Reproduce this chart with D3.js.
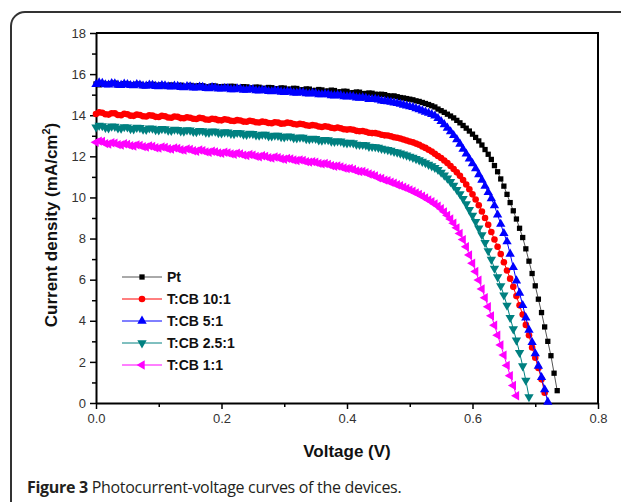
<!DOCTYPE html>
<html>
<head>
<meta charset="utf-8">
<script src="https://cdnjs.cloudflare.com/ajax/libs/d3/7.8.5/d3.min.js"></script>
<style>
  body { margin: 0; background: #fff; }
  svg { display: block; font-family: "Liberation Sans", Arial, sans-serif; }
  .axis path, .axis line { stroke: #000; }
  .axis text { fill: #333; font-size: 13px; }
</style>
</head>
<body>
<svg id="chart" width="621" height="502"></svg>
<script>
// voltage grid (V), 5 mV steps as in the measurement
const voltage = [
  0.000, 0.005, 0.010, 0.015, 0.020, 0.025, 0.030, 0.035, 0.040, 0.045,
  0.050, 0.055, 0.060, 0.065, 0.070, 0.075, 0.080, 0.085, 0.090, 0.095,
  0.100, 0.105, 0.110, 0.115, 0.120, 0.125, 0.130, 0.135, 0.140, 0.145,
  0.150, 0.155, 0.160, 0.165, 0.170, 0.175, 0.180, 0.185, 0.190, 0.195,
  0.200, 0.205, 0.210, 0.215, 0.220, 0.225, 0.230, 0.235, 0.240, 0.245,
  0.250, 0.255, 0.260, 0.265, 0.270, 0.275, 0.280, 0.285, 0.290, 0.295,
  0.300, 0.305, 0.310, 0.315, 0.320, 0.325, 0.330, 0.335, 0.340, 0.345,
  0.350, 0.355, 0.360, 0.365, 0.370, 0.375, 0.380, 0.385, 0.390, 0.395,
  0.400, 0.405, 0.410, 0.415, 0.420, 0.425, 0.430, 0.435, 0.440, 0.445,
  0.450, 0.455, 0.460, 0.465, 0.470, 0.475, 0.480, 0.485, 0.490, 0.495,
  0.500, 0.505, 0.510, 0.515, 0.520, 0.525, 0.530, 0.535, 0.540, 0.545,
  0.550, 0.555, 0.560, 0.565, 0.570, 0.575, 0.580, 0.585, 0.590, 0.595,
  0.600, 0.605, 0.610, 0.615, 0.620, 0.625, 0.630, 0.635, 0.640, 0.645,
  0.650, 0.655, 0.660, 0.665, 0.670, 0.675, 0.680, 0.685, 0.690, 0.695,
  0.700, 0.705, 0.710, 0.715, 0.720, 0.725, 0.730, 0.735
];

// current density (mA/cm2) per device
const jPt = [
  15.52, 15.48, 15.55, 15.51, 15.50, 15.54, 15.56, 15.47, 15.49, 15.53,
  15.52, 15.46, 15.47, 15.51, 15.50, 15.44, 15.45, 15.49, 15.50, 15.43,
  15.46, 15.47, 15.42, 15.45, 15.47, 15.40, 15.44, 15.46, 15.41, 15.39,
  15.45, 15.42, 15.40, 15.44, 15.43, 15.37, 15.38, 15.43, 15.42, 15.36,
  15.39, 15.40, 15.36, 15.41, 15.40, 15.34, 15.35, 15.39, 15.38, 15.32,
  15.33, 15.37, 15.36, 15.30, 15.31, 15.35, 15.34, 15.28, 15.29, 15.33,
  15.32, 15.26, 15.27, 15.31, 15.30, 15.23, 15.24, 15.28, 15.27, 15.20,
  15.21, 15.25, 15.23, 15.17, 15.18, 15.22, 15.20, 15.13, 15.14, 15.17,
  15.16, 15.09, 15.10, 15.13, 15.12, 15.05, 15.06, 15.08, 15.07, 15.02,
  15.01, 15.02, 15.00, 14.95, 14.93, 14.94, 14.90, 14.86, 14.84, 14.81,
  14.78, 14.75, 14.70, 14.67, 14.62, 14.57, 14.52, 14.46, 14.40, 14.30,
  14.22, 14.14, 14.05, 13.96, 13.87, 13.75, 13.63, 13.50, 13.37, 13.23,
  13.08, 12.92, 12.75, 12.55, 12.33, 12.10, 11.85, 11.55, 11.25, 10.90,
  10.55, 10.15, 9.75, 9.35, 8.95, 8.50, 8.05, 7.50, 6.90, 6.30,
  5.70, 5.05, 4.40, 3.70, 3.00, 2.30, 1.45, 0.60
];
const jCB10 = [
  14.06, 14.14, 14.12, 14.05, 14.03, 14.10, 14.09, 14.01, 14.00, 14.07,
  14.05, 13.98, 13.97, 14.03, 14.01, 13.95, 13.94, 14.00, 13.98, 13.92,
  13.91, 13.97, 13.95, 13.89, 13.88, 13.94, 13.92, 13.86, 13.85, 13.90,
  13.88, 13.83, 13.82, 13.87, 13.85, 13.79, 13.78, 13.83, 13.81, 13.76,
  13.75, 13.80, 13.78, 13.73, 13.72, 13.76, 13.74, 13.69, 13.68, 13.73,
  13.71, 13.66, 13.65, 13.69, 13.67, 13.62, 13.61, 13.66, 13.64, 13.59,
  13.60, 13.64, 13.62, 13.57, 13.55, 13.58, 13.56, 13.51, 13.49, 13.52,
  13.50, 13.45, 13.43, 13.46, 13.44, 13.39, 13.37, 13.40, 13.37, 13.32,
  13.30, 13.32, 13.29, 13.24, 13.22, 13.23, 13.20, 13.15, 13.13, 13.13,
  13.10, 13.05, 13.02, 13.01, 12.98, 12.93, 12.90, 12.87, 12.82, 12.77,
  12.72, 12.68, 12.62, 12.56, 12.48, 12.41, 12.32, 12.23, 12.12, 12.02,
  11.92, 11.80, 11.67, 11.53, 11.38, 11.22, 11.05, 10.85, 10.63, 10.40,
  10.15, 9.90, 9.62, 9.32, 9.00, 8.67, 8.32, 7.95, 7.60, 7.25,
  6.85, 6.45, 6.05, 5.65, 5.20, 4.75, 4.30, 3.80, 3.30, 2.70,
  2.20, 1.70, 1.15, 0.50
];
const jCB5 = [
  15.50, 15.58, 15.56, 15.49, 15.48, 15.55, 15.53, 15.47, 15.46, 15.52,
  15.50, 15.45, 15.44, 15.50, 15.48, 15.43, 15.42, 15.47, 15.46, 15.41,
  15.40, 15.45, 15.44, 15.39, 15.38, 15.43, 15.41, 15.36, 15.35, 15.40,
  15.39, 15.34, 15.33, 15.38, 15.36, 15.31, 15.30, 15.35, 15.33, 15.28,
  15.28, 15.31, 15.30, 15.25, 15.25, 15.29, 15.28, 15.22, 15.22, 15.26,
  15.25, 15.20, 15.19, 15.22, 15.21, 15.16, 15.15, 15.19, 15.18, 15.13,
  15.12, 15.15, 15.14, 15.09, 15.08, 15.11, 15.10, 15.05, 15.04, 15.07,
  15.06, 15.01, 15.00, 15.03, 15.01, 14.96, 14.95, 14.98, 14.96, 14.91,
  14.90, 14.92, 14.90, 14.85, 14.84, 14.86, 14.83, 14.78, 14.77, 14.78,
  14.75, 14.70, 14.68, 14.67, 14.64, 14.60, 14.58, 14.54, 14.50, 14.46,
  14.42, 14.38, 14.33, 14.28, 14.22, 14.16, 14.10, 14.04, 13.97, 13.85,
  13.70, 13.55, 13.38, 13.20, 13.02, 12.82, 12.60, 12.35, 12.12, 11.88,
  11.65, 11.40, 11.12, 10.85, 10.55, 10.25, 9.95, 9.60, 9.15, 8.70,
  8.25, 7.85, 7.25, 6.60, 5.95, 5.35, 4.75, 4.15, 3.55, 2.95,
  2.40, 1.80, 1.25, 0.65, 0.05
];
const jCB25 = [
  13.42, 13.50, 13.48, 13.40, 13.38, 13.46, 13.45, 13.37, 13.36, 13.43,
  13.42, 13.34, 13.33, 13.40, 13.39, 13.31, 13.30, 13.37, 13.36, 13.29,
  13.28, 13.34, 13.33, 13.26, 13.25, 13.31, 13.30, 13.23, 13.22, 13.28,
  13.27, 13.20, 13.19, 13.25, 13.24, 13.17, 13.16, 13.22, 13.21, 13.14,
  13.13, 13.18, 13.17, 13.11, 13.10, 13.15, 13.14, 13.07, 13.06, 13.11,
  13.10, 13.03, 13.02, 13.07, 13.06, 12.99, 12.98, 13.02, 13.01, 12.95,
  12.94, 12.98, 12.97, 12.90, 12.89, 12.93, 12.92, 12.85, 12.84, 12.87,
  12.86, 12.79, 12.78, 12.81, 12.80, 12.73, 12.72, 12.74, 12.73, 12.67,
  12.65, 12.67, 12.65, 12.58, 12.57, 12.57, 12.55, 12.48, 12.47, 12.46,
  12.43, 12.38, 12.35, 12.32, 12.28, 12.23, 12.20, 12.15, 12.10, 12.05,
  12.00, 11.94, 11.88, 11.82, 11.75, 11.68, 11.60, 11.53, 11.45, 11.35,
  11.22, 11.08, 10.93, 10.76, 10.58, 10.38, 10.17, 9.94, 9.68, 9.40,
  9.12, 8.82, 8.50, 8.18, 7.80, 7.40, 6.98, 6.55, 6.13, 5.70,
  5.25, 4.75, 4.15, 3.60, 3.05, 2.45, 1.80, 1.10, 0.30
];
const jCB1 = [
  12.68, 12.74, 12.72, 12.62, 12.60, 12.66, 12.64, 12.57, 12.55, 12.61,
  12.58, 12.52, 12.50, 12.56, 12.53, 12.47, 12.45, 12.51, 12.48, 12.42,
  12.40, 12.46, 12.43, 12.37, 12.35, 12.41, 12.38, 12.32, 12.30, 12.36,
  12.33, 12.27, 12.25, 12.31, 12.28, 12.22, 12.20, 12.25, 12.22, 12.17,
  12.15, 12.20, 12.17, 12.12, 12.10, 12.15, 12.12, 12.06, 12.04, 12.09,
  12.06, 12.00, 11.98, 12.03, 12.00, 11.94, 11.92, 11.97, 11.94, 11.88,
  11.86, 11.90, 11.87, 11.82, 11.80, 11.83, 11.80, 11.74, 11.72, 11.74,
  11.71, 11.66, 11.63, 11.65, 11.61, 11.55, 11.52, 11.53, 11.49, 11.43,
  11.40, 11.41, 11.36, 11.29, 11.26, 11.26, 11.21, 11.14, 11.10, 11.05,
  10.95, 10.92, 10.84, 10.81, 10.74, 10.69, 10.62, 10.57, 10.50, 10.44,
  10.37, 10.30, 10.22, 10.15, 10.06, 9.98, 9.88, 9.79, 9.68, 9.58,
  9.45, 9.30, 9.13, 8.95, 8.75, 8.52, 8.25, 7.95, 7.60, 7.20,
  6.80, 6.40, 5.98, 5.55, 5.12, 4.68, 4.24, 3.78, 3.30, 2.82,
  2.33, 1.83, 1.33, 0.85, 0.35
];

const seriesNames = ['Pt', 'T:CB 10:1', 'T:CB 5:1', 'T:CB 2.5:1', 'T:CB 1:1'];
const xTicks = [0, 0.2, 0.4, 0.6, 0.8];
const xMinor = [0.1, 0.3, 0.5, 0.7];
const yTicks = [0, 2, 4, 6, 8, 10, 12, 14, 16, 18];
const yMinor = [1, 3, 5, 7, 9, 11, 13, 15, 17];

// marker styles, same order as seriesNames
const styles = [
  {color: '#000000', line: '#555555', symbol: d3.symbolSquare, size: 28, rotate: 0},
  {color: '#ff0000', line: '#ff0000', symbol: d3.symbolCircle, size: 34, rotate: 0},
  {color: '#0000ff', line: '#0000ff', symbol: d3.symbolTriangle, size: 38, rotate: 0},
  {color: '#008080', line: '#008080', symbol: d3.symbolTriangle, size: 38, rotate: 180},
  {color: '#ff00ff', line: '#ff00ff', symbol: d3.symbolTriangle, size: 38, rotate: -90}
];

const series = [jPt, jCB10, jCB5, jCB25, jCB1].map((vals, i) => ({
  name: seriesNames[i],
  style: styles[i],
  points: vals.map((j, k) => [voltage[k], j])
}));

const svg = d3.select('#chart');

// rounded figure frame, cut by the page edge on the right and bottom
svg.append('rect')
  .attr('x', 11).attr('y', 12)
  .attr('width', 700).attr('height', 600)
  .attr('rx', 14)
  .attr('fill', 'none')
  .attr('stroke', '#333')
  .attr('stroke-width', 2);

const x = d3.scaleLinear().domain([0, 0.8]).range([96, 598]);
const y = d3.scaleLinear().domain([0, 18]).range([403, 33]);

// axes: major + minor ticks, pointing outward
const gx = svg.append('g').attr('class', 'axis')
  .attr('transform', `translate(0,${y(0)})`);
gx.call(d3.axisBottom(x).tickValues(xTicks).tickFormat(d3.format('.1f')).tickSize(6).tickSizeOuter(0).tickPadding(5));
gx.append('g').call(d3.axisBottom(x).tickValues(xMinor).tickFormat('').tickSize(4).tickSizeOuter(0))
  .select('.domain').remove();

const gy = svg.append('g').attr('class', 'axis')
  .attr('transform', `translate(${x(0)},0)`);
gy.call(d3.axisLeft(y).tickValues(yTicks).tickFormat(d3.format('d')).tickSize(6).tickSizeOuter(0).tickPadding(4));
gy.append('g').call(d3.axisLeft(y).tickValues(yMinor).tickFormat('').tickSize(4).tickSizeOuter(0))
  .select('.domain').remove();

svg.selectAll('.axis .domain').attr('stroke-width', 2);
svg.selectAll('.axis .tick line').attr('stroke-width', 1.5);

// top and right box edges
svg.append('path')
  .attr('d', `M${x(0)},${y(18)}H${x(0.8)}V${y(0)}`)
  .attr('fill', 'none')
  .attr('stroke', '#000')
  .attr('stroke-width', 2);

// curves
const line = d3.line().x(d => x(d[0])).y(d => y(d[1]));

const gs = svg.append('g').selectAll('g')
  .data(series)
  .join('g');

gs.append('path')
  .attr('d', d => line(d.points))
  .attr('fill', 'none')
  .attr('stroke', d => d.style.line)
  .attr('stroke-width', 1);

gs.each(function(s) {
  const sym = d3.symbol().type(s.style.symbol).size(s.style.size);
  d3.select(this).selectAll('path.mk')
    .data(s.points)
    .join('path')
    .attr('class', 'mk')
    .attr('d', sym)
    .attr('fill', s.style.color)
    .attr('transform', d => `translate(${x(d[0])},${y(d[1])}) rotate(${s.style.rotate})`);
});

// legend
const legend = svg.append('g')
  .selectAll('g')
  .data(series)
  .join('g')
  .attr('transform', (d, i) => `translate(122,${277 + i * 22})`);

legend.append('line')
  .attr('x1', 0).attr('x2', 40)
  .attr('stroke', d => d.style.line)
  .attr('stroke-width', 1);

legend.append('path')
  .attr('d', d => d3.symbol().type(d.style.symbol).size(d.style.size)())
  .attr('fill', d => d.style.color)
  .attr('transform', d => `translate(20,0) rotate(${d.style.rotate})`);

legend.append('text')
  .attr('x', 45).attr('dy', '0.35em')
  .attr('font-size', 14)
  .attr('font-weight', 'bold')
  .attr('fill', '#111')
  .text(d => d.name);

// axis titles
svg.append('text')
  .attr('x', (x(0) + x(0.8)) / 2).attr('y', 457)
  .attr('text-anchor', 'middle')
  .attr('font-size', 17)
  .attr('font-weight', 'bold')
  .attr('fill', '#111')
  .text('Voltage (V)');

const yt = svg.append('text')
  .attr('transform', `translate(57,${(y(0) + y(18)) / 2 + 7}) rotate(-90)`)
  .attr('text-anchor', 'middle')
  .attr('font-size', 17)
  .attr('font-weight', 'bold')
  .attr('fill', '#111');
yt.append('tspan').text('Current density (mA/cm');
yt.append('tspan').attr('font-size', 11).attr('dy', -7).text('2');
yt.append('tspan').attr('dy', 7).text(')');

// caption
const cap = svg.append('text')
  .attr('x', 27).attr('y', 493)
  .attr('font-family', '"Open Sans", "Noto Sans", sans-serif')
  .attr('font-size', 16)
  .attr('letter-spacing', -0.3)
  .attr('fill', '#231f20');
cap.append('tspan').attr('font-weight', 'bold').text('Figure 3');
cap.append('tspan').text(' Photocurrent-voltage curves of the devices.');
</script>
</body>
</html>
